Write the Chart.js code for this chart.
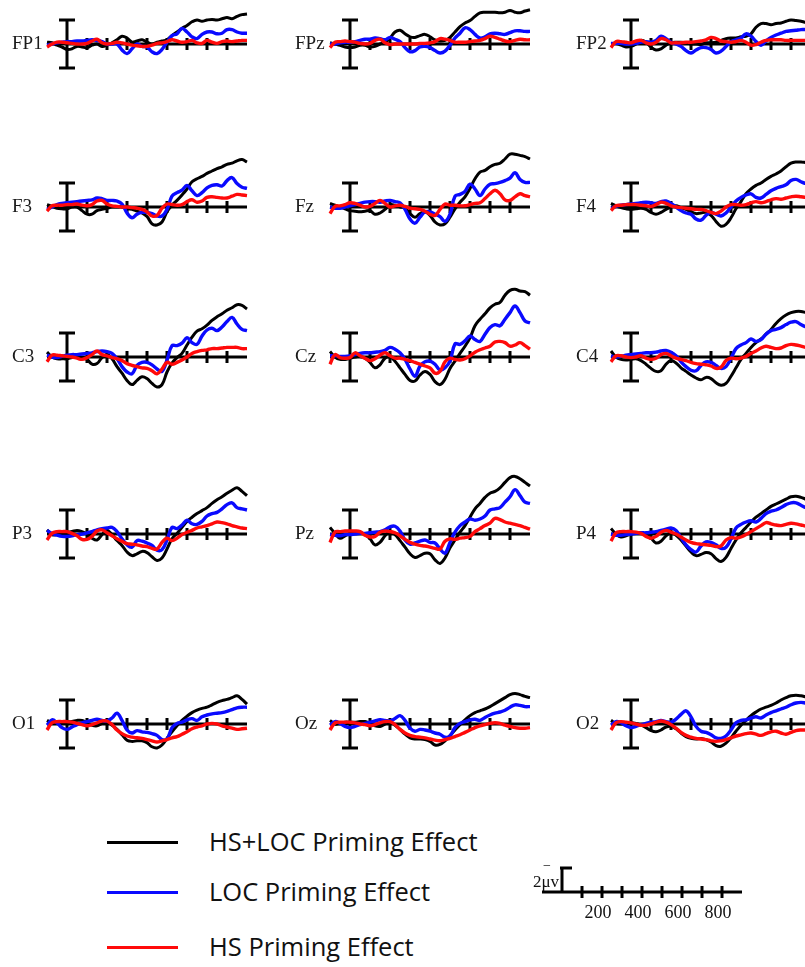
<!DOCTYPE html>
<html>
<head>
<meta charset="utf-8">
<script src="https://cdn.jsdelivr.net/npm/chart.js@4.4.0/dist/chart.umd.min.js"></script>
<style>
  html, body { margin: 0; padding: 0; background: #fff; }
  #page { position: relative; width: 805px; height: 967px; overflow: hidden; background: #fff; }
  #page canvas { position: absolute; }
  .chan { position: absolute; font-family: 'Liberation Serif', serif; font-size: 19px; color: #1a1a1a; height: 24px; line-height: 24px; white-space: nowrap; }
  .key-line { position: absolute; height: 3px; width: 71px; }
  .key-text { position: absolute; font-family: 'Open Sans', sans-serif; font-size: 25.5px; color: #111; height: 32px; line-height: 32px; white-space: nowrap; }
</style>
</head>
<body>
<div id="page"></div>
<script>
/* ============================================================
   ERP difference waves, 15 electrodes, -100..900 ms (negative up)
   ============================================================ */

// time axis (ms) and tick marks
const times = [-100, -75, -50, -25, 0, 25, 50, 75, 100, 125, 150, 175, 200, 225, 250, 275, 300, 325, 350, 375,
  400, 425, 450, 475, 500, 525, 550, 575, 600, 625, 650, 675, 700, 725, 750, 775, 800, 825, 850, 875, 900];
const timeTicks = [100, 200, 300, 400, 500, 600, 700, 800];
const scaleLabels = [200, 400, 600, 800];
const seriesNames = ['HS+LOC Priming Effect', 'LOC Priming Effect', 'HS Priming Effect'];
const channels = [
  ['FP1', 'FPz', 'FP2'],
  ['F3', 'Fz', 'F4'],
  ['C3', 'Cz', 'C4'],
  ['P3', 'Pz', 'P4'],
  ['O1', 'Oz', 'O2'],
];

// amplitudes in microvolts
const FP1_hsloc = [-0.15, -0.1, 0.1, 0.25, 0.45, 0.4, 0.2, 0.25, 0.3, 0.1, 0, 0.2, 0.1, -0.1, -0.35, -0.65, -0.5, -0.15, -0.25, -0.35, -0.15, 0, -0.15, -0.25, -0.35, -0.7, -1.0, -1.3, -1.55, -1.85, -2.0, -1.9, -2.0, -2.05, -2.0, -2.1, -2.2, -2.1, -2.3, -2.45, -2.5];
const FP1_loc = [0.1, 0, -0.1, -0.15, -0.2, -0.2, -0.25, -0.25, -0.3, -0.35, -0.3, -0.2, 0, 0, 0, 0.5, 0.8, 0.4, 0, 0.2, 0.25, 0.65, 0.8, 0.45, -0.15, -0.7, -0.85, -1.3, -1.0, -0.6, -0.45, -0.8, -1.0, -1.0, -0.85, -0.9, -1.2, -1.2, -1.0, -0.9, -0.9];
const FP1_hs = [0.25, 0, -0.15, -0.15, -0.1, -0.05, 0, 0, -0.05, -0.25, -0.4, -0.1, 0, -0.05, -0.15, -0.1, 0, 0.1, 0.15, 0.2, 0.2, 0.1, -0.05, -0.1, -0.2, -0.35, -0.25, -0.15, -0.2, -0.3, -0.1, -0.05, -0.3, -0.15, -0.05, -0.2, -0.25, -0.2, -0.25, -0.3, -0.3];

const FPz_hsloc = [-0.1, 0, 0.1, 0.25, 0.3, 0.25, 0.1, 0.1, 0.25, 0.2, 0, -0.15, -0.5, -1.0, -1.15, -0.85, -0.6, -0.55, -0.7, -0.8, -0.6, -0.35, -0.25, -0.3, -0.55, -1.0, -1.45, -1.75, -1.95, -2.3, -2.6, -2.65, -2.65, -2.65, -2.6, -2.65, -2.8, -2.65, -2.6, -2.75, -2.85];
const FPz_loc = [0, 0, -0.1, -0.15, -0.15, -0.2, -0.3, -0.4, -0.4, -0.5, -0.45, -0.35, -0.55, -0.4, -0.2, 0.3, 0.65, 0.55, 0.25, 0.2, 0.3, 0.55, 0.75, 0.6, 0.1, -0.5, -0.9, -1.35, -1.2, -0.8, -0.5, -0.6, -0.85, -0.9, -0.85, -0.8, -0.95, -1.1, -1.1, -1.05, -1.05];
const FPz_hs = [0.3, -0.15, -0.2, -0.25, -0.2, -0.15, -0.05, 0, -0.05, -0.3, -0.4, -0.1, 0.05, 0, 0, 0, 0, 0, -0.05, -0.05, -0.1, -0.2, -0.45, -0.4, -0.3, -0.15, -0.15, -0.15, -0.2, -0.25, -0.3, -0.45, -0.65, -0.55, -0.4, -0.25, -0.2, -0.3, -0.4, -0.35, -0.35];

const FP2_hsloc = [0, -0.05, 0.1, 0.25, 0.2, 0, -0.3, -0.15, 0.25, 0.5, 0.4, 0.1, -0.1, -0.15, -0.15, -0.1, 0, 0, 0.05, -0.1, -0.1, -0.15, -0.3, -0.45, -0.5, -0.5, -0.6, -0.65, -0.85, -1.4, -1.7, -1.7, -1.6, -1.7, -1.75, -1.9, -2.0, -1.95, -1.9, -1.8, -1.85];
const FP2_loc = [-0.05, -0.05, -0.05, 0, 0, -0.05, -0.15, -0.2, -0.15, -0.3, -0.65, -0.45, -0.15, 0, 0.2, 0.55, 0.75, 0.5, 0.3, 0.3, 0.45, 0.75, 0.6, 0.2, -0.2, -0.35, -0.5, -0.85, -0.65, -0.2, 0.1, -0.25, -0.55, -0.75, -0.9, -1.05, -1.1, -1.15, -1.2, -1.2, -1.2];
const FP2_hs = [0.3, -0.2, -0.2, -0.15, -0.1, -0.25, -0.3, -0.1, 0, -0.15, -0.45, -0.35, -0.1, -0.1, -0.1, -0.15, -0.15, -0.2, -0.25, -0.35, -0.55, -0.45, -0.25, -0.2, -0.15, -0.2, -0.3, -0.15, 0.1, 0.05, -0.15, -0.3, -0.35, -0.35, -0.35, -0.3, -0.3, -0.3, -0.3, -0.3, -0.3];

const F3_hsloc = [-0.2, -0.05, 0.1, 0.15, 0.15, 0, 0, 0.3, 0.6, 0.6, 0.3, 0.2, 0.1, 0, 0, 0, 0.15, 0.2, 0.35, 0.5, 0.8, 1.4, 1.5, 1.25, 0.4, -0.15, -0.55, -1.0, -1.5, -2.1, -2.35, -2.55, -2.8, -3.0, -3.2, -3.35, -3.55, -3.65, -3.85, -3.95, -3.75];
const F3_loc = [0.2, 0, -0.2, -0.3, -0.35, -0.4, -0.45, -0.5, -0.55, -0.6, -0.75, -0.7, -0.55, -0.55, -0.5, -0.25, 0.5, 0.9, 0.6, 0.45, 0.45, 0.55, 0.75, 0.75, 0.2, -0.9, -1.2, -1.4, -1.8, -1.35, -0.95, -1.2, -1.6, -1.8, -1.85, -1.75, -2.2, -2.45, -1.95, -1.65, -1.55];
const F3_hs = [0.35, -0.1, -0.15, -0.15, -0.2, -0.2, -0.25, -0.15, -0.1, -0.2, -0.5, -0.55, -0.25, -0.1, -0.05, 0, 0, 0.05, 0.1, 0.2, 0.4, 0.75, 0.7, 0.1, -0.25, -0.2, -0.15, -0.2, -0.45, -0.6, -0.4, -0.5, -0.8, -0.85, -0.8, -0.75, -0.75, -0.9, -1.05, -1.0, -0.95];

const Fz_hsloc = [-0.3, -0.15, 0, 0.15, 0.3, 0.35, 0.4, 0.35, 0.3, 0.6, 0.5, 0.2, -0.2, -0.15, 0, 0.1, 0.55, 0.85, 0.55, 0.4, 0.7, 1.25, 1.5, 1.4, 0.85, 0.15, -0.4, -0.85, -1.55, -2.35, -2.9, -3.05, -3.35, -3.55, -3.65, -4.0, -4.4, -4.4, -4.3, -4.2, -4.0];
const Fz_loc = [0, 0.1, 0.1, 0, -0.1, -0.2, -0.3, -0.4, -0.45, -0.45, -0.4, -0.5, -0.55, -0.45, -0.35, 0.2, 1.0, 1.35, 0.85, 0.4, 0.4, 0.6, 0.8, 1.2, 0.6, -0.9, -1.05, -1.3, -1.9, -1.5, -0.95, -1.5, -1.9, -1.95, -2.05, -2.2, -2.4, -2.85, -2.3, -2.05, -2.05];
const Fz_hs = [0.55, -0.05, -0.1, -0.2, -0.35, -0.3, -0.15, 0, -0.05, -0.3, -0.55, -0.3, 0, -0.1, -0.15, -0.05, 0.1, 0.15, 0.2, 0.35, 0.6, 0.7, 0.2, -0.25, -0.15, -0.15, -0.1, -0.1, -0.2, -0.3, -0.35, -0.7, -1.1, -1.4, -1.1, -0.6, -0.55, -0.85, -1.1, -0.95, -0.85];

const F4_hsloc = [-0.3, -0.1, 0.05, 0.15, 0.2, 0.15, 0.1, 0.2, 0.45, 0.6, 0.45, 0.2, 0, -0.1, 0.05, 0.2, 0.4, 0.55, 0.5, 0.45, 0.7, 1.2, 1.6, 1.45, 0.9, 0.15, -0.45, -1.1, -1.5, -1.8, -2.0, -2.3, -2.55, -2.75, -3.0, -3.35, -3.65, -3.75, -3.75, -3.7, -3.65];
const F4_loc = [0.1, -0.05, -0.15, -0.2, -0.25, -0.3, -0.35, -0.4, -0.35, -0.3, -0.45, -0.5, -0.3, 0, 0.3, 0.5, 0.6, 1.0, 1.1, 0.7, 0.45, 0.6, 0.75, 0.5, 0, -0.5, -0.8, -1.0, -1.1, -0.8, -0.75, -1.05, -1.35, -1.55, -1.7, -1.85, -2.2, -2.3, -2.1, -1.95, -1.9];
const F4_hs = [0.3, -0.1, -0.15, -0.2, -0.2, -0.2, -0.15, -0.1, -0.05, -0.2, -0.4, -0.3, -0.1, 0, 0.05, 0.1, 0.15, 0.2, 0.2, 0.3, 0.45, 0.55, 0.35, 0, -0.2, -0.2, -0.15, -0.2, -0.35, -0.45, -0.35, -0.45, -0.6, -0.7, -0.65, -0.75, -0.85, -0.9, -0.85, -0.8, -0.8];

const C3_hsloc = [-0.4, 0, 0.15, 0.15, 0.15, 0.05, 0, 0.05, 0.2, 0.6, 0.55, 0.05, -0.2, 0.15, 0.8, 1.35, 1.95, 2.3, 1.95, 1.65, 1.8, 2.2, 2.5, 2.3, 1.25, 0.5, 0.05, -0.3, -1.0, -1.65, -2.15, -2.35, -2.65, -3.05, -3.35, -3.6, -3.9, -4.1, -4.35, -4.3, -4.0];
const C3_loc = [-0.15, 0, 0.05, -0.05, -0.15, -0.2, -0.2, -0.25, -0.3, -0.35, -0.45, -0.5, -0.45, -0.3, 0.15, 0.8, 1.25, 1.4, 0.7, 0.45, 0.45, 0.65, 1.0, 1.2, 0.25, -0.95, -0.95, -1.15, -1.6, -1.2, -1.05, -1.75, -2.25, -2.4, -2.2, -2.5, -2.95, -3.3, -2.75, -2.3, -2.2];
const C3_hs = [0.4, -0.15, -0.15, -0.1, -0.05, 0, 0.1, 0.2, 0.05, -0.2, -0.5, -0.2, -0.1, 0.05, 0.15, 0.3, 0.55, 0.7, 0.8, 0.9, 0.95, 1.15, 1.4, 1.0, 0.45, 0.6, 0.45, 0.25, 0, -0.3, -0.45, -0.55, -0.6, -0.7, -0.7, -0.75, -0.8, -0.8, -0.8, -0.7, -0.7];

const Cz_hsloc = [-0.45, 0, 0.2, 0.2, 0.1, 0, -0.05, 0.1, 0.45, 0.9, 0.65, 0.1, 0, 0.35, 0.9, 1.45, 1.95, 2.0, 1.5, 1.2, 1.45, 2.05, 2.3, 1.85, 0.95, 0.35, -0.3, -0.9, -1.6, -2.6, -3.15, -3.6, -4.1, -4.4, -4.55, -5.15, -5.55, -5.65, -5.5, -5.45, -5.15];
const Cz_loc = [-0.1, -0.1, -0.05, -0.05, -0.1, -0.2, -0.3, -0.35, -0.35, -0.4, -0.45, -0.55, -0.8, -0.65, -0.35, 0.2, 1.0, 1.6, 0.75, 0.4, 0.35, 0.6, 1.1, 0.9, 0.35, -1.1, -1.05, -1.35, -1.75, -1.45, -1.3, -1.9, -2.45, -2.7, -2.6, -3.15, -3.7, -4.25, -3.7, -3.0, -2.85];
const Cz_hs = [0.6, -0.2, 0.05, 0.1, 0.05, -0.35, -0.1, 0.1, 0.3, 0.15, -0.15, -0.35, -0.1, 0.1, 0.1, 0.2, 0.3, 0.45, 0.6, 0.75, 0.9, 1.35, 1.2, 0.4, 0.1, 0.2, 0.25, 0.15, -0.1, -0.4, -0.6, -0.75, -0.9, -1.25, -1.3, -1.2, -0.9, -1.0, -1.2, -0.95, -0.65];

const C4_hsloc = [-0.5, 0, 0.2, 0.25, 0.2, 0.15, 0.3, 0.6, 0.95, 1.2, 1.15, 0.6, 0.3, 0.5, 0.9, 1.2, 1.5, 1.75, 1.9, 1.7, 1.8, 2.15, 2.35, 2.2, 1.6, 0.9, 0.2, -0.3, -0.8, -1.2, -1.5, -1.9, -2.3, -2.8, -3.2, -3.5, -3.7, -3.8, -3.8, -3.7, -3.6];
const C4_loc = [-0.1, 0, -0.05, -0.15, -0.2, -0.25, -0.3, -0.35, -0.35, -0.4, -0.5, -0.55, -0.4, -0.1, 0.4, 0.8, 1.1, 1.15, 0.7, 0.4, 0.45, 0.7, 0.95, 0.8, 0.1, -0.7, -1.0, -1.2, -1.5, -1.3, -1.45, -1.9, -2.2, -2.3, -2.45, -2.7, -2.9, -2.95, -2.7, -2.5, -2.4];
const C4_hs = [0.4, -0.1, -0.1, 0, 0.05, 0, -0.1, 0.1, 0.2, 0.1, -0.2, -0.3, -0.1, 0.1, 0.2, 0.3, 0.45, 0.55, 0.6, 0.65, 0.75, 0.95, 0.85, 0.3, 0.1, 0.15, 0.1, -0.05, -0.3, -0.5, -0.75, -0.9, -0.8, -0.7, -0.75, -0.95, -1.05, -1.0, -0.9, -0.8, -0.75];

const P3_hsloc = [-0.35, 0.05, 0.05, -0.05, -0.15, -0.2, -0.3, -0.2, 0, 0.35, 0.5, 0.05, -0.3, 0.05, 0.55, 0.95, 1.5, 1.8, 1.65, 1.45, 1.55, 1.9, 2.2, 2.0, 1.25, 0.4, -0.05, -0.55, -1.05, -1.4, -1.7, -1.95, -2.2, -2.55, -2.85, -3.1, -3.4, -3.65, -3.85, -3.55, -3.2];
const P3_loc = [-0.3, -0.05, 0.1, 0.2, 0.2, 0.15, 0.05, 0, -0.1, -0.2, -0.35, -0.45, -0.5, -0.55, -0.2, 0.4, 0.9, 1.1, 0.55, 0.6, 0.75, 0.95, 1.35, 1.3, 0.5, -0.55, -0.45, -0.75, -1.15, -0.85, -0.8, -1.05, -1.5, -1.7, -1.8, -2.1, -2.45, -2.6, -2.2, -2.1, -2.0];
const P3_hs = [0.5, -0.05, -0.2, -0.2, -0.2, -0.05, 0.15, 0.45, 0.45, 0.2, -0.25, -0.35, -0.1, 0.15, 0.4, 0.6, 0.8, 0.85, 0.9, 1.0, 1.05, 1.2, 1.25, 0.7, 0.35, 0.55, 0.35, 0.05, -0.15, -0.3, -0.5, -0.6, -0.7, -0.85, -1.0, -0.95, -0.85, -0.7, -0.6, -0.5, -0.45];

const Pz_hsloc = [-0.55, -0.05, 0.35, 0.15, -0.05, -0.15, -0.15, 0.05, 0.4, 0.9, 0.7, 0.15, -0.2, 0.05, 0.55, 1.1, 1.65, 1.95, 1.8, 1.6, 1.65, 2.15, 2.45, 2.0, 1.15, 0.5, -0.15, -0.7, -1.4, -2.1, -2.55, -3.05, -3.4, -3.55, -3.85, -4.3, -4.7, -4.8, -4.6, -4.3, -4.0];
const Pz_loc = [0.05, 0.1, 0.15, 0.05, 0.05, 0, -0.05, -0.05, -0.1, -0.15, -0.2, -0.35, -0.6, -0.65, -0.25, 0.5, 0.85, 0.75, 0.6, 0.5, 0.7, 0.75, 1.25, 1.6, 0.7, -0.15, -0.7, -1.0, -1.25, -1.15, -1.25, -1.5, -2.0, -2.1, -2.2, -2.65, -3.1, -3.7, -3.2, -2.65, -2.55];
const Pz_hs = [0.7, -0.15, -0.2, -0.25, -0.25, -0.25, -0.2, 0.1, 0.25, 0.2, -0.15, -0.25, -0.2, -0.1, 0.15, 0.45, 0.7, 0.85, 0.95, 1.0, 1.1, 1.2, 1.25, 0.6, 0.4, 0.45, 0.35, 0.3, 0.2, -0.2, -0.45, -0.7, -0.9, -1.3, -1.2, -1.0, -0.9, -0.8, -0.7, -0.55, -0.4];

const P4_hsloc = [-0.45, 0, 0.25, 0.15, 0, -0.1, -0.1, 0.05, 0.35, 0.75, 0.6, 0.15, -0.1, 0.1, 0.5, 1.0, 1.5, 1.8, 1.7, 1.55, 1.65, 2.05, 2.3, 1.95, 1.2, 0.5, -0.1, -0.55, -1.0, -1.4, -1.7, -2.0, -2.3, -2.5, -2.7, -2.9, -3.1, -3.15, -3.05, -2.9, -2.75];
const P4_loc = [0, 0.1, 0.1, 0.05, 0, -0.05, -0.1, -0.1, -0.15, -0.2, -0.3, -0.4, -0.5, -0.3, 0.3, 0.9, 1.3, 1.5, 1.0, 0.65, 0.7, 0.9, 1.2, 1.1, 0.4, -0.5, -0.8, -1.0, -1.1, -1.0, -1.3, -1.7, -1.9, -2.0, -2.2, -2.45, -2.6, -2.6, -2.4, -2.2, -2.1];
const P4_hs = [0.6, -0.1, -0.2, -0.2, -0.2, -0.15, -0.05, 0.2, 0.35, 0.2, -0.15, -0.3, -0.15, 0, 0.25, 0.5, 0.7, 0.8, 0.85, 0.9, 0.95, 1.05, 1.0, 0.5, 0.3, 0.35, 0.25, 0.05, -0.2, -0.45, -0.7, -0.95, -0.85, -0.75, -0.7, -0.8, -0.9, -0.85, -0.75, -0.65, -0.6];

const O1_hsloc = [-0.3, -0.05, -0.1, -0.2, -0.2, -0.2, -0.3, -0.3, -0.1, 0.1, 0.15, -0.05, -0.2, 0.1, 0.45, 0.9, 1.35, 1.45, 1.4, 1.4, 1.55, 1.9, 2.0, 1.75, 1.2, 0.65, 0.15, -0.3, -0.65, -0.95, -1.15, -1.3, -1.4, -1.6, -1.8, -1.95, -2.05, -2.2, -2.35, -2.05, -1.65];
const O1_loc = [0.1, -0.35, -0.1, 0.3, 0.45, 0.25, 0.05, -0.1, -0.2, -0.3, -0.4, -0.3, -0.25, -0.5, -0.9, -0.3, 0.5, 0.75, 0.55, 0.65, 0.7, 0.8, 0.95, 1.3, 1.25, 0.3, -0.05, -0.15, -0.35, -0.45, -0.3, -0.6, -0.75, -0.85, -0.9, -0.95, -1.05, -1.2, -1.35, -1.4, -1.4];
const O1_hs = [0.5, -0.1, -0.2, -0.2, -0.2, -0.15, -0.05, 0.05, 0.15, 0.05, -0.1, -0.25, -0.25, 0.05, 0.5, 0.8, 1.0, 1.1, 1.15, 1.2, 1.3, 1.4, 1.5, 1.4, 1.3, 1.15, 1.05, 0.85, 0.65, 0.4, 0.25, 0.15, 0, -0.05, 0, 0.15, 0.25, 0.35, 0.45, 0.4, 0.35];

const Oz_hsloc = [-0.3, 0, -0.05, -0.15, -0.15, -0.15, -0.2, -0.2, -0.05, 0.15, 0.2, 0, -0.15, 0.1, 0.45, 0.85, 1.15, 1.25, 1.25, 1.3, 1.45, 1.75, 1.7, 1.4, 0.95, 0.5, 0.05, -0.35, -0.7, -0.95, -1.1, -1.25, -1.45, -1.7, -1.95, -2.2, -2.45, -2.55, -2.45, -2.3, -2.2];
const Oz_loc = [0.1, -0.2, -0.05, 0.2, 0.3, 0.2, 0.05, -0.05, -0.15, -0.25, -0.35, -0.3, -0.25, -0.45, -0.7, -0.3, 0.35, 0.6, 0.45, 0.5, 0.6, 0.75, 0.85, 1.1, 1.0, 0.3, -0.05, -0.2, -0.35, -0.4, -0.3, -0.55, -0.75, -0.9, -1.0, -1.15, -1.4, -1.6, -1.55, -1.45, -1.45];
const Oz_hs = [0.5, -0.1, -0.15, -0.15, -0.15, -0.1, 0, 0.05, 0.15, 0.05, -0.1, -0.2, -0.2, 0.05, 0.45, 0.75, 0.95, 1.05, 1.1, 1.15, 1.25, 1.35, 1.4, 1.3, 1.2, 1.05, 0.9, 0.7, 0.5, 0.3, 0.15, 0.05, -0.05, -0.1, -0.05, 0.1, 0.2, 0.3, 0.35, 0.35, 0.3];

const O2_hsloc = [-0.3, -0.05, 0, -0.05, -0.1, -0.05, 0.1, 0.3, 0.55, 0.65, 0.5, 0.25, 0.2, 0.4, 0.75, 1.05, 1.2, 1.25, 1.2, 1.3, 1.5, 1.8, 1.85, 1.6, 1.15, 0.6, 0.1, -0.3, -0.7, -1.0, -1.25, -1.4, -1.55, -1.75, -2.0, -2.2, -2.35, -2.4, -2.35, -2.25, -2.15];
const O2_loc = [0.1, -0.2, -0.1, 0.15, 0.3, 0.2, 0.05, -0.05, -0.15, -0.2, -0.3, -0.2, -0.15, -0.4, -0.8, -1.1, -0.6, 0.2, 0.6, 0.7, 0.9, 1.15, 1.2, 1.0, 0.5, -0.1, -0.3, -0.35, -0.5, -0.6, -0.5, -0.75, -0.95, -1.1, -1.25, -1.4, -1.6, -1.75, -1.8, -1.75, -1.7];
const O2_hs = [0.5, -0.1, -0.2, -0.15, -0.1, 0, 0.1, 0.1, 0, -0.15, -0.25, -0.15, 0.05, 0.35, 0.7, 0.95, 1.1, 1.2, 1.25, 1.3, 1.4, 1.45, 1.4, 1.3, 1.15, 1.0, 0.9, 0.8, 0.75, 0.85, 0.95, 0.8, 0.65, 0.6, 0.75, 0.85, 0.7, 0.55, 0.5, 0.5, 0.5];

const waves = {
  FP1: [FP1_hsloc, FP1_loc, FP1_hs], FPz: [FPz_hsloc, FPz_loc, FPz_hs], FP2: [FP2_hsloc, FP2_loc, FP2_hs],
  F3: [F3_hsloc, F3_loc, F3_hs], Fz: [Fz_hsloc, Fz_loc, Fz_hs], F4: [F4_hsloc, F4_loc, F4_hs],
  C3: [C3_hsloc, C3_loc, C3_hs], Cz: [Cz_hsloc, Cz_loc, Cz_hs], C4: [C4_hsloc, C4_loc, C4_hs],
  P3: [P3_hsloc, P3_loc, P3_hs], Pz: [Pz_hsloc, Pz_loc, Pz_hs], P4: [P4_hsloc, P4_loc, P4_hs],
  O1: [O1_hsloc, O1_loc, O1_hs], Oz: [Oz_hsloc, Oz_loc, Oz_hs], O2: [O2_hsloc, O2_loc, O2_hs],
};

// ---------------------------------------------------------
// Layout / style
// ---------------------------------------------------------
const COL_ZERO = [67, 350, 631];          // x pixel of 0 ms per column
const ROW_BASE = [44, 207, 357, 534, 724]; // y pixel of 0 uV per row
const PAD = 6;
const COLORS = ['#000000', '#0a0aff', '#ff0a0a'];
const WIDTHS = [3, 3.4, 3.4];
const SERIF = "'Liberation Serif', serif";

const page = document.getElementById('page');

// axis drawn from the chart's own scales: baseline, ticks, calibration bar
const erpAxes = {
  id: 'erpAxes',
  beforeDatasetsDraw(chart, args, opts) {
    const { ctx, scales: { x, y } } = chart;
    const x0 = x.getPixelForValue(0);
    const y0 = y.getPixelForValue(0);
    ctx.save();
    ctx.strokeStyle = '#000';
    ctx.lineWidth = 3;
    ctx.beginPath();
    ctx.moveTo(x.getPixelForValue(-100), y0);
    ctx.lineTo(x.getPixelForValue(900), y0);
    timeTicks.forEach(t => {
      const tx = x.getPixelForValue(t);
      ctx.moveTo(tx, y0 - 6);
      ctx.lineTo(tx, y0 + 6);
    });
    const yTop = y.getPixelForValue(-opts.bar);
    const yBot = y.getPixelForValue(opts.both ? opts.bar : 0);
    ctx.moveTo(x0, yTop);
    ctx.lineTo(x0, yBot);
    ctx.moveTo(x0 - opts.capL, yTop);
    ctx.lineTo(x0 + opts.capR, yTop);
    if (opts.both) {
      ctx.moveTo(x0 - opts.capL, yBot);
      ctx.lineTo(x0 + opts.capR, yBot);
    }
    ctx.stroke();

    if (opts.labels) {
      ctx.fillStyle = '#111';
      ctx.font = '18px ' + SERIF;
      ctx.textAlign = 'center';
      ctx.textBaseline = 'alphabetic';
      scaleLabels.forEach(v => ctx.fillText(String(v), x.getPixelForValue(v) - 4, y0 + 26));
      ctx.font = '17px ' + SERIF;
      ctx.textAlign = 'right';
      ctx.fillText('2\u03bcv', x0 - 3, y0 - 5);
      ctx.textAlign = 'center';
      ctx.font = '14px ' + SERIF;
      ctx.fillText('\u2212', x0 - 15, y0 - 22);
    }
    ctx.restore();
  },
};

function addCanvas(left, top, w, h) {
  const c = document.createElement('canvas');
  c.width = w; c.height = h;
  c.style.left = left + 'px';
  c.style.top = top + 'px';
  page.appendChild(c);
  return c;
}

function makeChart(canvas, datasets, yMin, yMax, padding, axesOpts) {
  return new Chart(canvas.getContext('2d'), {
    type: 'line',
    data: { datasets },
    options: {
      responsive: false,
      animation: false,
      events: [],
      layout: { padding },
      plugins: { legend: { display: false }, tooltip: { enabled: false }, erpAxes: axesOpts },
      scales: {
        x: { type: 'linear', min: -100, max: 900, display: false },
        y: { min: yMin, max: yMax, reverse: true, display: false },
      },
    },
    plugins: [erpAxes],
  });
}

// ---------------------------------------------------------
// Electrode panels
// ---------------------------------------------------------
channels.forEach((row, r) => {
  row.forEach((name, c) => {
    const x0 = COL_ZERO[c], y0 = ROW_BASE[r];
    // chart area: -100..900 ms -> 200 px, -6..3 uV -> 108 px
    const canvas = addCanvas(x0 - 20 - PAD, y0 - 72 - PAD, 200 + 2 * PAD, 108 + 2 * PAD);
    const datasets = waves[name].map((vals, s) => ({
      label: seriesNames[s],
      data: times.map((t, i) => ({ x: t, y: vals[i] })),
      borderColor: COLORS[s],
      borderWidth: WIDTHS[s],
      pointRadius: 0,
      tension: 0.4,
      fill: false,
      clip: false,
      order: 3 - s,
    }));
    makeChart(canvas, datasets, -6, 3, PAD, { bar: 2, both: true, capL: 8, capR: 8 });

    const lab = document.createElement('div');
    lab.className = 'chan';
    lab.textContent = name;
    lab.style.left = (x0 - 55) + 'px';
    lab.style.top = (y0 - 13) + 'px';
    page.appendChild(lab);
  });
});

// ---------------------------------------------------------
// Calibration / time scale
// ---------------------------------------------------------
(() => {
  const x0 = 562, y0 = 892;
  const pad = { left: 40, right: 6, top: 6, bottom: 34 };
  const canvas = addCanvas(x0 - 20 - pad.left, y0 - 30 - pad.top, 200 + pad.left + pad.right, 36 + pad.top + pad.bottom);
  makeChart(canvas, [], -2.5, 0.5, pad, { bar: 2, both: false, capL: 2, capR: 10, labels: true });
})();

// ---------------------------------------------------------
// Legend
// ---------------------------------------------------------
const KEY_Y = [842, 892, 947];
seriesNames.forEach((name, s) => {
  const line = document.createElement('div');
  line.className = 'key-line';
  line.style.left = '107px';
  line.style.top = (KEY_Y[s] - 1.5) + 'px';
  line.style.background = COLORS[s];
  page.appendChild(line);

  const txt = document.createElement('div');
  txt.className = 'key-text';
  txt.textContent = name;
  txt.style.left = '209px';
  txt.style.top = (KEY_Y[s] - 17) + 'px';
  page.appendChild(txt);
});
</script>
</body>
</html>
